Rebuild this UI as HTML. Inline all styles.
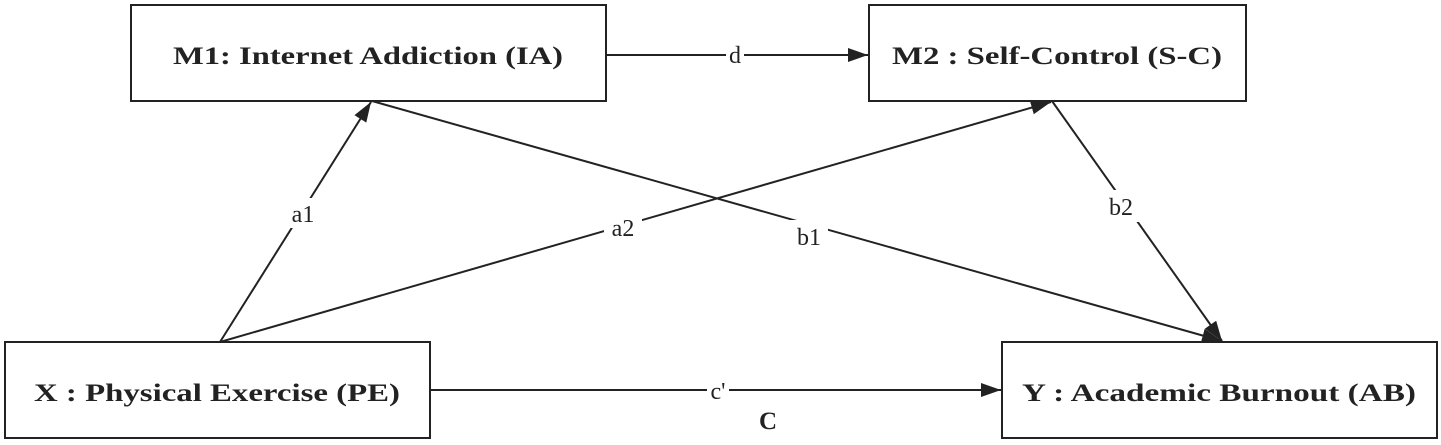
<!DOCTYPE html>
<html><head><meta charset="utf-8"><style>
html,body{margin:0;padding:0;background:#fff;}
svg{display:block;}
.b{font-family:"Liberation Serif",serif;font-weight:bold;font-size:25px;fill:#222;}
.l{font-family:"Liberation Serif",serif;font-size:24px;fill:#222;}
</style></head><body>
<svg width="1441" height="445" viewBox="0 0 1441 445" xmlns="http://www.w3.org/2000/svg">
<defs>
<marker id="ar" markerWidth="20" markerHeight="14" refX="20" refY="7" orient="auto" markerUnits="userSpaceOnUse">
<path d="M0,0 L20,7 L0,14 z" fill="#222"/>
</marker>
</defs>
<g fill="none" stroke="#222" stroke-width="2">
<rect x="131" y="5" width="475" height="96" fill="#fff"/>
<rect x="869" y="5" width="377" height="96" fill="#fff"/>
<rect x="5" y="342" width="425" height="96" fill="#fff"/>
<rect x="1002" y="342" width="435" height="96" fill="#fff"/>
<line x1="606" y1="55" x2="868" y2="55" marker-end="url(#ar)"/>
<line x1="220" y1="342" x2="371" y2="102" marker-end="url(#ar)"/>
<line x1="220" y1="342" x2="1051" y2="102" marker-end="url(#ar)"/>
<line x1="372" y1="101" x2="1222" y2="341" marker-end="url(#ar)"/>
<line x1="1052" y1="101" x2="1222" y2="341" marker-end="url(#ar)"/>
<line x1="430" y1="390" x2="1001" y2="390" marker-end="url(#ar)"/>
</g>
<g fill="#fff">
<rect x="726" y="42" width="18" height="26"/>
<rect x="284" y="198" width="38" height="30"/>
<rect x="604" y="212" width="38" height="30"/>
<rect x="790" y="220" width="38" height="30"/>
<rect x="1102" y="190" width="38" height="32"/>
<rect x="707" y="378" width="22" height="24"/>
</g>
<text class="b" x="368" y="64" text-anchor="middle" textLength="390" lengthAdjust="spacingAndGlyphs">M1: Internet Addiction (IA)</text>
<text class="b" x="1057" y="64" text-anchor="middle" textLength="330" lengthAdjust="spacingAndGlyphs">M2 : Self-Control (S-C)</text>
<text class="b" x="217" y="401" text-anchor="middle" textLength="366" lengthAdjust="spacingAndGlyphs">X : Physical Exercise (PE)</text>
<text class="b" x="1219" y="401" text-anchor="middle" textLength="394" lengthAdjust="spacingAndGlyphs">Y : Academic Burnout (AB)</text>
<text class="l" x="735" y="63" text-anchor="middle">d</text>
<text class="l" x="303" y="222" text-anchor="middle">a1</text>
<text class="l" x="623" y="236" text-anchor="middle">a2</text>
<text class="l" x="809" y="245" text-anchor="middle">b1</text>
<text class="l" x="1121" y="215" text-anchor="middle">b2</text>
<text class="l" x="718" y="399" text-anchor="middle">c'</text>
<text class="b" x="768" y="429" text-anchor="middle">C</text>
</svg>
</body></html>
